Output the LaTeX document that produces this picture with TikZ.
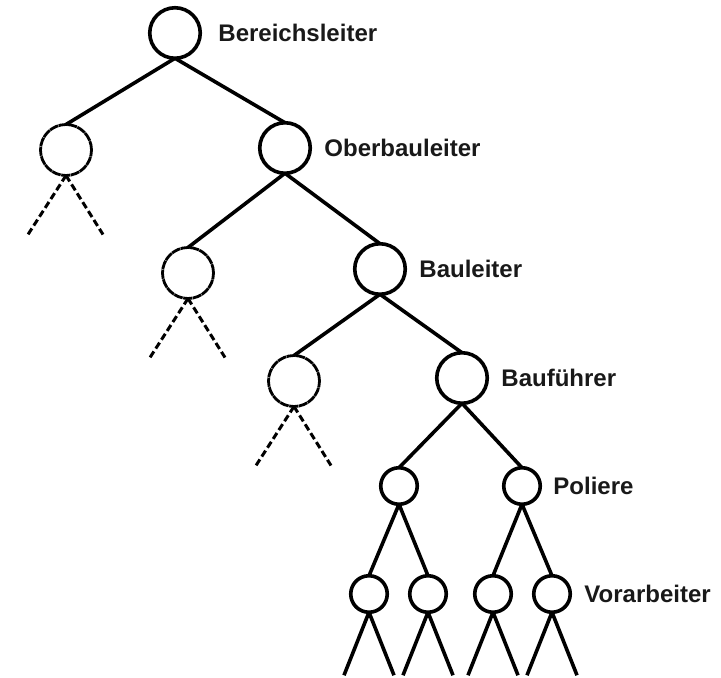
\documentclass[tikz,border=0pt]{standalone}
\usepackage{fontspec}
\setmainfont{Liberation Sans}
\usepackage{tikz}
\usetikzlibrary{positioning}
\tikzset{
    orgNode/.style={circle, draw=black, fill=white, line width=3.6pt, inner sep=0pt, outer sep=0pt, minimum size=50.5pt},
    smallNode/.style={orgNode, minimum size=36.5pt},
    openNode/.style={circle, draw=black, fill=white, line width=2.8pt, dash pattern=on 9pt off 0.6pt, inner sep=0pt, outer sep=0pt, minimum size=51pt},
    rankText/.style={font=\fontsize{24}{28}\selectfont\bfseries, text=black!90, inner sep=0pt},
    treeEdge/.style={line width=3.6pt},
    openEdge/.style={line width=3pt, dash pattern=on 7pt off 3.5pt}
}

\begin{document}
\begin{tikzpicture}[x=1pt, y=-1pt, label distance=14pt]
    \useasboundingbox (0,0) rectangle (721,678);
    % main line of the hierarchy
    \node[orgNode, label={[rankText, label distance=18pt]right:Bereichsleiter}] (boss) at (175,33) {};
    \node[openNode] (openA) at (66,150) {};
    \node[orgNode, label={[rankText]right:Oberbauleiter}] (ober) at (285,148) {};
    \node[openNode] (openB) at (188,273) {};
    \node[orgNode, label={[rankText]right:Bauleiter}] (bauleiter) at (380,269) {};
    \node[openNode] (openC) at (294,381) {};
    \node[orgNode, label={[rankText]right:Bauführer}] (fuehrer) at (462,378) {};
    \node[smallNode] (polL) at (399,486) {};
    \node[smallNode, label={[rankText, label distance=13pt]right:Poliere}] (polR) at (522,486) {};
    \node[smallNode] (vorA) at (369,594) {};
    \node[smallNode] (vorB) at (428,594) {};
    \node[smallNode] (vorC) at (493,594) {};
    \node[smallNode, label={[rankText]right:Vorarbeiter}] (vorD) at (552,594) {};

    \draw[treeEdge] (boss.south)--(openA.north);
    \draw[treeEdge] (boss.south)--(ober.north);
    \draw[treeEdge] (ober.south)--(openB.north);
    \draw[treeEdge] (ober.south)--(bauleiter.north);
    \draw[treeEdge] (bauleiter.south)--(openC.north);
    \draw[treeEdge] (bauleiter.south)--(fuehrer.north);
    \draw[treeEdge] (fuehrer.south)--(polL.north);
    \draw[treeEdge] (fuehrer.south)--(polR.north);
    \draw[treeEdge] (polL.south)--(vorA.north);
    \draw[treeEdge] (polL.south)--(vorB.north);
    \draw[treeEdge] (polR.south)--(vorC.north);
    \draw[treeEdge] (polR.south)--(vorD.north);

    % branches that are not followed further
    \foreach \n in {openA, openB, openC} {
        \coordinate (\n-l) at ([shift={(-38,59)}]\n.south);
        \coordinate (\n-r) at ([shift={(37,59)}]\n.south);
        \draw[openEdge] (\n.south)--(\n-l);
        \draw[openEdge] (\n.south)--(\n-r);
    }
    \foreach \n in {vorA, vorB, vorC, vorD} {
        \coordinate (\n-l) at ([shift={(-25,63)}]\n.south);
        \coordinate (\n-r) at ([shift={(25,63)}]\n.south);
        \draw[treeEdge] (\n.south)--(\n-l);
        \draw[treeEdge] (\n.south)--(\n-r);
    }
\end{tikzpicture}
\end{document}
